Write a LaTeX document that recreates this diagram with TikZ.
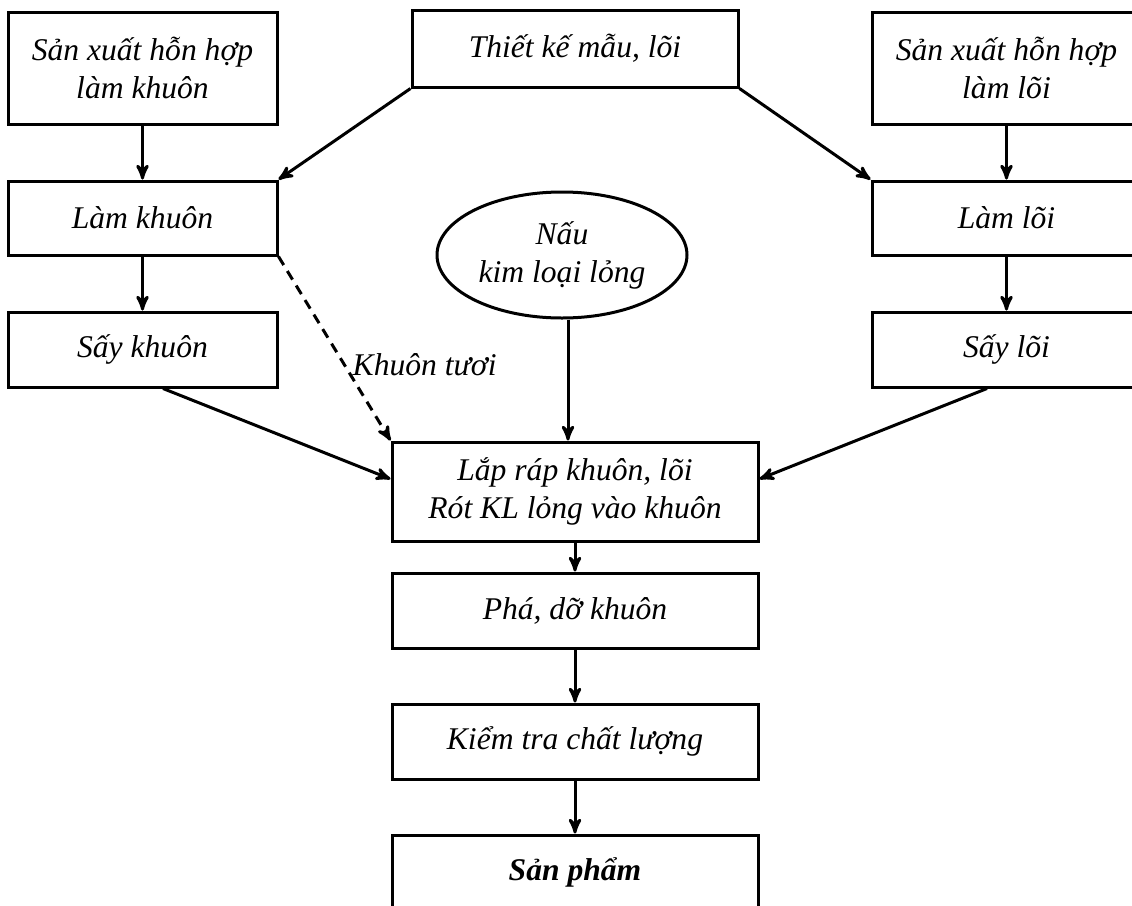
\documentclass[tikz,border=0pt]{standalone}
\usepackage{fontspec}
\setmainfont{Liberation Serif}
\usetikzlibrary{arrows,shapes.geometric}
\begin{document}
\begin{tikzpicture}[x=0.5pt,y=-0.5pt,->,>=stealth',line width=1.5pt,main node/.style={rectangle,draw,align=center,inner sep=0pt,minimum width=134.5pt,font=\itshape\fontsize{15.8}{19}\selectfont},oval node/.style={ellipse,draw,align=center,inner sep=0pt,minimum width=125pt,minimum height=63pt,font=\itshape\fontsize{15.8}{19}\selectfont}]
    \clip[-,use as bounding box] (0,0) rectangle (1132,906);
    \node[main node,minimum height=56pt] (0) at (142.5,68) {Sản xuất hỗn hợp\\làm khuôn};
    \node[main node,minimum height=37pt] (1) at (142.5,218) {Làm khuôn};
    \node[main node,minimum height=37.5pt] (2) at (142.5,349.5) {Sấy khuôn};
    \node[main node,minimum width=163pt,minimum height=38.5pt] (3) at (575,48.5) {Thiết kế mẫu, lõi};
    \node[main node,minimum height=56pt] (4) at (1006.5,68) {Sản xuất hỗn hợp\\làm lõi};
    \node[main node,minimum height=37pt] (5) at (1006.5,218) {Làm lõi};
    \node[main node,minimum height=37.5pt] (6) at (1006.5,349.5) {Sấy lõi};
    \node[oval node] (7) at (562,255) {Nấu\\kim loại lỏng};
    \node[main node,minimum width=183pt,minimum height=49.5pt] (8) at (575,491.5) {Lắp ráp khuôn, lõi\\Rót KL lỏng vào khuôn};
    \node[main node,minimum width=183pt,minimum height=37.5pt] (9) at (575,610.5) {Phá, dỡ khuôn};
    \node[main node,minimum width=183pt,minimum height=37.5pt] (10) at (575,741.5) {Kiểm tra chất lượng};
    \node[main node,minimum width=183pt,minimum height=37.5pt] (11) at (575,872.5) {\bfseries Sản phẩm};
    \draw (0) -- (1);
    \draw (1) -- (2);
    \draw (3.south west) -- (1.north east);
    \draw (3.south east) -- (5.north west);
    \draw (4) -- (5);
    \draw (5) -- (6);
    \draw[dash pattern=on 5pt off 3.5pt] (1.south east) -- node[pos=0.59,right=0pt,font=\itshape\fontsize{15.8}{19}\selectfont] {Khuôn tươi} (8.north west);
    \draw ([xshift=10.25pt]2.south) -- ([yshift=6.25pt]8.west);
    \draw ([xshift=-9.75pt]6.south) -- ([yshift=6.25pt]8.east);
    \draw ([xshift=3pt]7.south) -- ([xshift=3pt]7.south |- 8.north);
    \draw (8) -- (9);
    \draw (9) -- (10);
    \draw (10) -- (11);
  \end{tikzpicture}
\end{document}
